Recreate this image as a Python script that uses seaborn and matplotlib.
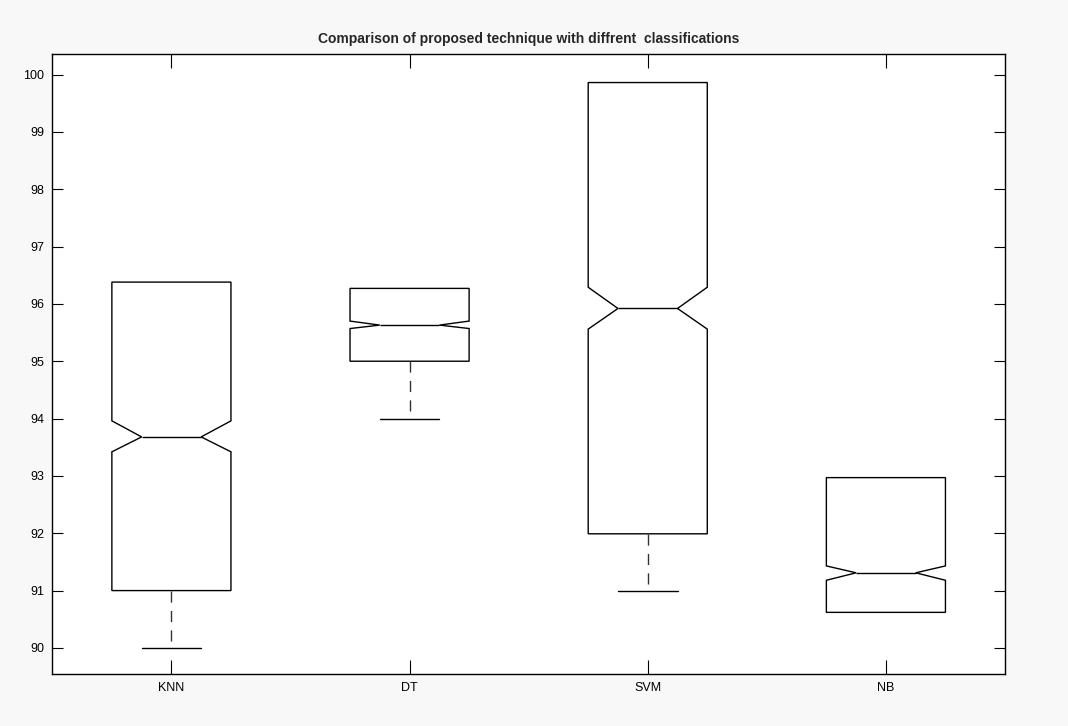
import numpy as np
import pandas as pd
import matplotlib
matplotlib.use("Agg")
import matplotlib.pyplot as plt
import seaborn as sns

# ---- data ----
categories = ["KNN", "DT", "SVM", "NB"]
whisker_low = [90.00, 94.00, 91.00, 90.62]
q1 = [91.00, 95.00, 91.99, 90.62]
median = [93.68, 95.63, 95.92, 91.31]
q3 = [96.38, 96.27, 99.86, 92.97]
whisker_high = [96.38, 96.27, 99.86, 92.97]
notch_low = [93.42, 95.57, 95.56, 91.18]
notch_high = [93.96, 95.70, 96.29, 91.43]
yticks = [90, 91, 92, 93, 94, 95, 96, 97, 98, 99, 100]
title = "Comparison of proposed technique with diffrent  classifications"

# long-form table: five-number summary per category
rows = []
for i, c in enumerate(categories):
    for v in (whisker_low[i], q1[i], median[i], q3[i], whisker_high[i]):
        rows.append({"method": c, "accuracy": v})
df = pd.DataFrame(rows)

sns.set_style("ticks")
plt.rcParams["font.family"] = ["Liberation Sans", "DejaVu Sans"]

fig = plt.figure(figsize=(10.68, 7.26), dpi=100, facecolor="#f8f8f8")
ax = fig.add_axes([0.049, 0.072, 0.892, 0.853])
ax.set_facecolor("white")

sns.boxplot(data=df, x="method", y="accuracy", order=categories,
            notch=True, width=0.5, whis=10, color="white",
            linecolor="black", linewidth=1.0, fliersize=0,
            whiskerprops={"linestyle": (0, (8, 6)), "color": "#333333"},
            capprops={"color": "black"},
            medianprops={"color": "black", "linewidth": 1.0},
            ax=ax)

# set notch extents to the values
for i, patch in enumerate(ax.patches[:len(categories)]):
    verts = patch.get_path().vertices
    verts[[2, 9], 1] = notch_low[i]
    verts[[4, 7], 1] = notch_high[i]
    patch.set_facecolor("white")
    patch.set_edgecolor("black")

# hide caps of zero-length whiskers (they sit on the box edges)
hidden = set()
for i in range(len(categories)):
    if whisker_high[i] == q3[i]:
        hidden.add(q3[i])
    if whisker_low[i] == q1[i]:
        hidden.add(q1[i])
for line in ax.lines:
    y = np.asarray(line.get_ydata(), dtype=float)
    if len(y) == 2 and y[0] == y[1] and float(y[0]) in hidden:
        line.set_visible(False)

ax.set_xlim(-0.5, 3.5)
ax.set_ylim(89.55, 100.35)
ax.set_yticks(yticks)
ax.set_yticklabels([str(t) for t in yticks])
ax.set_xlabel("")
ax.set_ylabel("")
ax.set_title(title, fontsize=10, fontweight="bold",
             family=["Liberation Sans Narrow", "Liberation Sans", "DejaVu Sans"],
             pad=8)

for s in ax.spines.values():
    s.set_visible(True)
    s.set_color("black")
    s.set_linewidth(1.0)

ax.tick_params(axis="both", direction="in", length=8, width=0.8,
               colors="black", labelsize=9, pad=6)
ax.tick_params(axis="y", right=True, left=True)
ax.tick_params(axis="x", top=True, bottom=True, length=10)

fig.savefig("out.png", dpi=100, facecolor=fig.get_facecolor())
